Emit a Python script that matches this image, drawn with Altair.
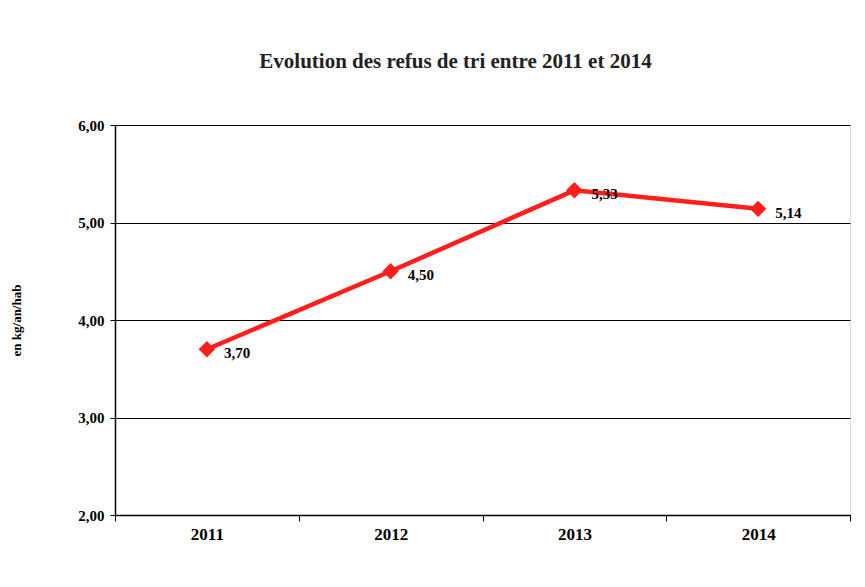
import altair as alt
import pandas as pd

years = ["2011", "2012", "2013", "2014"]
values = [3.70, 4.50, 5.33, 5.14]
labels = ["3,70", "4,50", "5,33", "5,14"]

df = pd.DataFrame({"annee": years, "valeur": values, "label": labels})

FONT = "Liberation Serif"
RED = "#ff1f1a"

x = alt.X("annee:O", title=None,
          scale=alt.Scale(paddingInner=0, paddingOuter=0),
          axis=alt.Axis(tickBand="extent", labelAngle=0, grid=False,
                        domainColor="black", tickColor="black", tickSize=6,
                        labelFont=FONT, labelFontWeight="bold", labelFontSize=17,
                        labelColor="black", labelPadding=5, domainWidth=1.5))
y = alt.Y("valeur:Q", title="en kg/an/hab",
          scale=alt.Scale(domain=[2, 6], nice=False, zero=False),
          axis=alt.Axis(values=[2, 3, 4, 5, 6], grid=True, gridColor="black",
                        gridWidth=1.2, gridOpacity=1,
                        labelExpr="replace(format(datum.value, '.2f'), '.', ',')",
                        domainColor="black", tickColor="black", tickSize=5,
                        labelFont=FONT, labelFontWeight="bold", labelFontSize=15,
                        labelColor="black", labelPadding=6, domainWidth=1.5,
                        titleFont=FONT, titleFontWeight="bold", titleFontSize=13,
                        titleColor="black", titleX=-92, titleY=195, titleAngle=270))

base = alt.Chart(df).encode(x=x, y=y)

line = base.mark_line(color=RED, strokeWidth=4.5)
pts = base.mark_point(shape="diamond", size=270, filled=True, color=RED, opacity=1)
txt = base.mark_text(align="left", baseline="middle", dx=17, dy=4,
                     font=FONT, fontWeight="bold", fontSize=15, color="black"
                     ).encode(text="label:N")

chart = (line + pts + txt).properties(
    width=735, height=390,
    title=alt.TitleParams("Evolution des refus de tri entre 2011 et 2014",
                          font=FONT, fontWeight="bold", fontSize=21,
                          color="#222222", anchor="middle", dx=-27, offset=46),
    autosize=alt.AutoSizeParams(type="none"),
    padding={"left": 107, "top": 117, "right": 7, "bottom": 56},
).configure_view(stroke="black", strokeWidth=1.5).configure(background="white")

chart.save("out.html", embed_options={"renderer": "svg", "actions": False})
